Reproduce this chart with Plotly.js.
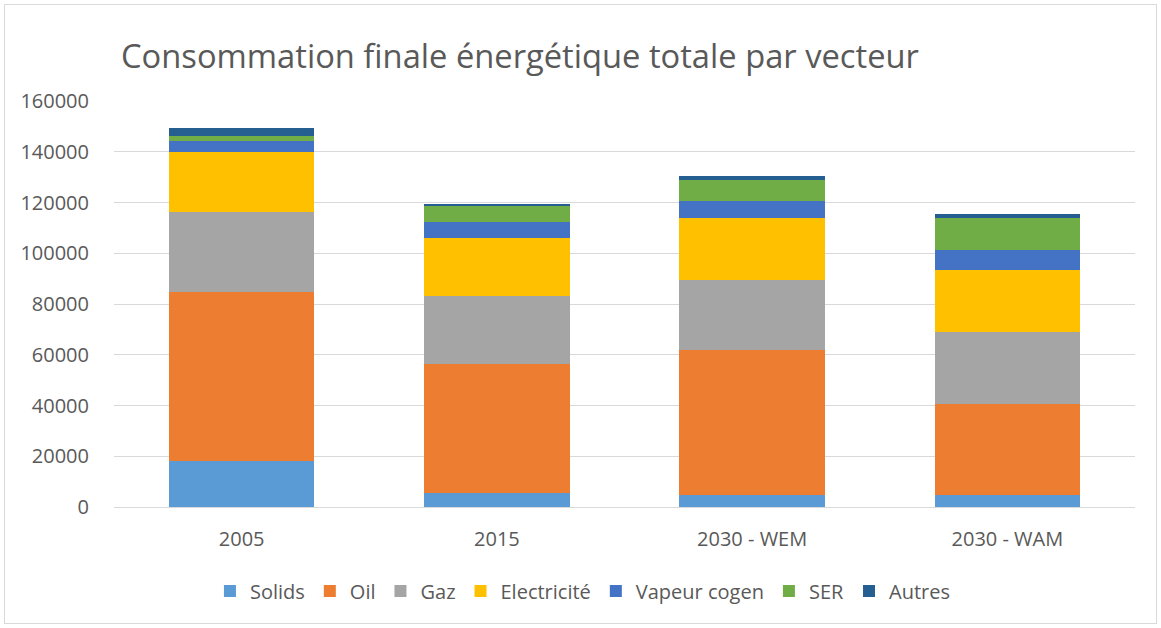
<!DOCTYPE html>
<html>
<head>
<meta charset="utf-8">
<script src="https://cdn.plot.ly/plotly-3.0.1.min.js"></script>
<style>
  html, body { margin: 0; padding: 0; background: #fff; }
  #wrap { position: relative; width: 1161px; height: 628px; }
  #chart { width: 1161px; height: 628px; }
  #frame { position: absolute; left: 4px; top: 4px; width: 1151px; height: 618px;
           border: 1px solid #d9d9d9; pointer-events: none; }
</style>
</head>
<body>
<div id="wrap">
  <div id="chart"></div>
  <div id="frame"></div>
</div>
<script>
const categories = ["2005", "2015", "2030 - WEM", "2030 - WAM"];
const seriesNames = ["Solids", "Oil", "Gaz", "Electricité", "Vapeur cogen", "SER", "Autres"];
const solids      = [18000, 5500, 4600, 4600];
const oil         = [66700, 50900, 57300, 36100];
const gaz         = [31400, 26800, 27500, 28300];
const electricite = [23700, 22800, 24400, 24500];
const vapeurCogen = [4600, 6200, 6900, 7600];
const ser         = [1800, 6400, 8000, 12900];
const autres      = [3000, 700, 1700, 1500];
const yTicks = [0, 20000, 40000, 60000, 80000, 100000, 120000, 140000, 160000];

const seriesValues = [solids, oil, gaz, electricite, vapeurCogen, ser, autres];
const colors = ["#5B9BD5", "#ED7D31", "#A5A5A5", "#FFC000", "#4472C4", "#70AD47", "#255E91"];

const traces = seriesNames.map((name, i) => ({
  type: "bar",
  name: name,
  x: categories,
  y: seriesValues[i],
  marker: { color: colors[i], line: { width: 0 } },
  hoverinfo: "x+y+name"
}));

const font = "'Open Sans', sans-serif";
const layout = {
  width: 1161,
  height: 628,
  barmode: "stack",
  bargap: 0.43,
  paper_bgcolor: "#ffffff",
  plot_bgcolor: "#ffffff",
  margin: { l: 114, r: 26, t: 101, b: 121 },
  font: { family: font, color: "#595959", size: 20 },
  title: {
    text: "Consommation finale énergétique totale par vecteur",
    font: { family: font, size: 32.7, color: "#595959" },
    x: 121 / 1161, xanchor: "left", xref: "container",
    y: 1 - 57 / 628, yanchor: "middle", yref: "container"
  },
  xaxis: {
    type: "category",
    showgrid: false,
    showline: false,
    ticks: "",
    tickfont: { family: font, size: 20, color: "#595959" },
    ticklabelstandoff: 18
  },
  yaxis: {
    range: [0, 160000],
    tickvals: yTicks,
    ticktext: yTicks.map(String),
    showgrid: true,
    gridcolor: "#D9D9D9",
    gridwidth: 1,
    zeroline: true,
    zerolinecolor: "#D9D9D9",
    zerolinewidth: 1,
    showline: false,
    ticks: "",
    tickfont: { family: font, size: 20, color: "#595959" },
    ticklabelstandoff: 24
  },
  legend: {
    orientation: "h",
    x: 0.4593, xanchor: "center",
    y: -0.207, yanchor: "middle",
    traceorder: "normal",
    font: { family: font, size: 20, color: "#595959" },
    itemwidth: 30,
    bgcolor: "rgba(0,0,0,0)"
  },
  showlegend: true
};

Plotly.newPlot("chart", traces, layout, { displayModeBar: false, staticPlot: true });
</script>
</body>
</html>
